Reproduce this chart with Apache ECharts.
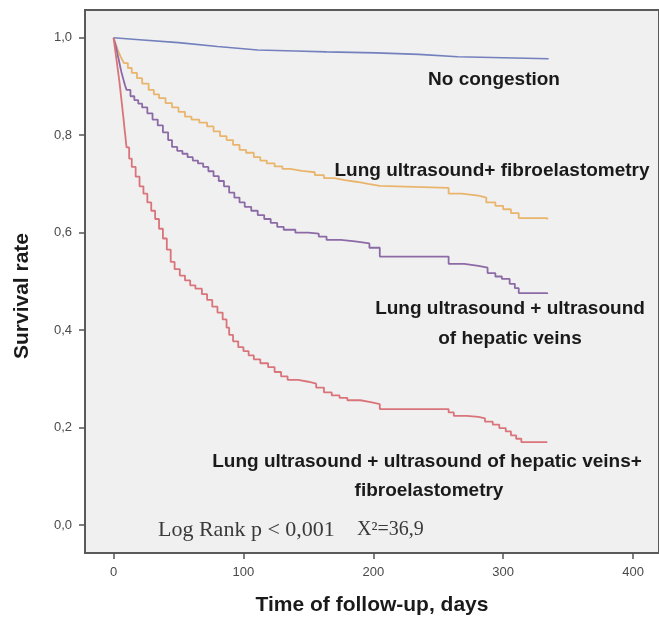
<!DOCTYPE html>
<html>
<head>
<meta charset="utf-8">
<script src="https://cdn.jsdelivr.net/npm/echarts@6/dist/echarts.min.js"></script>
<style>
  html, body { margin: 0; padding: 0; background: #fff; }
  #chart { width: 659px; height: 622px; }
</style>
</head>
<body>
<div id="chart"></div>
<script>
// tick values
const xTicks = [0, 100, 200, 300, 400];
const yTicks = [0, 0.2, 0.4, 0.6, 0.8, 1.0];

// No congestion
const blueT = [0, 20, 50, 80, 111, 140, 164, 202, 235, 265, 300, 335];
const blueS = [1.0, 0.996, 0.990, 0.982, 0.975, 0.973, 0.971, 0.969, 0.966, 0.961, 0.959, 0.957];

// Lung ultrasound+ fibroelastometry
const orangeT = [0, 1, 2, 3, 4, 5, 6, 7, 8, 11, 14, 18, 22, 27, 31, 35, 40, 45, 50, 55, 60, 66, 72, 77, 82, 87, 92,
  97, 102, 108, 113, 118, 124, 130, 136, 145, 155, 162, 170, 178, 188, 196, 205, 258, 268, 281, 287, 294, 300, 306,
  312, 334];
const orangeS = [1.0, 0.992, 0.985, 0.977, 0.970, 0.964, 0.958, 0.953, 0.948, 0.938, 0.928, 0.917, 0.906, 0.893,
  0.884, 0.876, 0.866, 0.857, 0.848, 0.838, 0.832, 0.826, 0.818, 0.808, 0.798, 0.790, 0.780, 0.770, 0.764, 0.755,
  0.748, 0.742, 0.736, 0.731, 0.727, 0.724, 0.718, 0.712, 0.708, 0.704, 0.700, 0.696, 0.692, 0.680, 0.676, 0.672,
  0.662, 0.655, 0.648, 0.640, 0.630, 0.627];

// Lung ultrasound + ultrasound of hepatic veins
const purpleT = [0, 1, 2, 3, 4, 5, 6, 7, 8, 9, 10, 13, 16, 19, 22, 26, 30, 34, 38, 42, 45, 49, 53, 57, 61, 65, 69,
  73, 77, 81, 85, 89, 93, 97, 101, 106, 111, 116, 121, 126, 131, 140, 150, 158, 164, 175, 186, 197, 205, 258, 270,
  281, 288, 294, 299, 305, 309, 312, 334];
const purpleS = [1.0, 0.990, 0.980, 0.967, 0.955, 0.942, 0.930, 0.920, 0.910, 0.901, 0.893, 0.880, 0.872, 0.865,
  0.857, 0.845, 0.832, 0.820, 0.806, 0.790, 0.776, 0.768, 0.762, 0.755, 0.748, 0.742, 0.735, 0.726, 0.716, 0.706,
  0.695, 0.682, 0.672, 0.662, 0.653, 0.645, 0.636, 0.628, 0.620, 0.612, 0.606, 0.600, 0.598, 0.592, 0.585, 0.582,
  0.578, 0.569, 0.551, 0.536, 0.532, 0.528, 0.517, 0.510, 0.505, 0.495, 0.486, 0.476, 0.474];

// Lung ultrasound + ultrasound of hepatic veins+ fibroelastometry
const redT = [0, 0.5, 1, 1.5, 2, 2.5, 3, 3.5, 4, 4.5, 5, 5.5, 6, 6.5, 7, 7.5, 8, 8.5, 9, 9.5, 10, 12, 14, 17, 20,
  23, 26, 29, 32, 35, 38, 41, 44, 47, 51, 55, 59, 63, 68, 72, 76, 80, 84, 87, 89, 92, 96, 100, 104, 108, 113, 119,
  124, 129, 134, 142, 150, 156, 162, 168, 174, 180, 190, 198, 205, 258, 262, 272, 281, 286, 292, 297, 302, 306, 310,
  314, 334];
const redS = [1.0, 0.990, 0.980, 0.970, 0.960, 0.950, 0.940, 0.930, 0.920, 0.910, 0.898, 0.886, 0.874, 0.862, 0.850,
  0.838, 0.825, 0.812, 0.800, 0.787, 0.775, 0.752, 0.735, 0.715, 0.695, 0.680, 0.662, 0.645, 0.628, 0.608, 0.588,
  0.565, 0.540, 0.525, 0.512, 0.502, 0.492, 0.485, 0.474, 0.462, 0.448, 0.436, 0.422, 0.405, 0.390, 0.377, 0.365,
  0.357, 0.348, 0.340, 0.332, 0.324, 0.314, 0.305, 0.298, 0.294, 0.290, 0.282, 0.272, 0.266, 0.261, 0.256, 0.252,
  0.248, 0.238, 0.231, 0.224, 0.222, 0.219, 0.212, 0.206, 0.199, 0.192, 0.184, 0.177, 0.170, 0.170];

const pairs = (t, s) => t.map((v, i) => [v, s[i]]);
const comma = v => String(v.toFixed(1)).replace('.', ',');

const sans = 'Liberation Sans, Arial, sans-serif';
const serif = 'Liberation Serif, Times New Roman, serif';

const chart = echarts.init(document.getElementById('chart'));

function label(text, x, y, size, rotation) {
  return {
    type: 'text', x: x, y: y, z: 10, rotation: rotation || 0,
    style: {
      text: text, fill: '#1a1a1a', font: 'bold ' + (size || 19) + 'px ' + sans,
      textAlign: 'center', textVerticalAlign: 'middle'
    }
  };
}

chart.setOption({
  animation: false,
  grid: {
    left: 85, top: 10, right: -7, bottom: 69,
    show: true, backgroundColor: '#f0f0f0', borderColor: '#5a5a5a', borderWidth: 2
  },
  xAxis: {
    type: 'value', min: -22, max: 420,
    axisLine: { show: false, onZero: false },
    splitLine: { show: false },
    axisTick: { show: true, length: 6, customValues: xTicks, lineStyle: { color: '#555', width: 1.5 } },
    axisLabel: { customValues: xTicks, margin: 13, fontSize: 13, color: '#4a4a4a', fontFamily: sans },
    name: 'Time of follow-up, days', nameLocation: 'middle', nameGap: 42,
    nameTextStyle: { fontSize: 21, fontWeight: 'bold', color: '#1a1a1a', fontFamily: sans }
  },
  yAxis: {
    type: 'value', min: -0.0575, max: 1.057,
    axisLine: { show: false, onZero: false },
    splitLine: { show: false },
    axisTick: { show: true, length: 6, customValues: yTicks, lineStyle: { color: '#555', width: 1.5 } },
    axisLabel: { customValues: yTicks, margin: 13, fontSize: 13, color: '#4a4a4a', fontFamily: sans, formatter: comma }
  },
  series: [
    { name: 'No congestion', type: 'line', data: pairs(blueT, blueS), showSymbol: false,
      lineStyle: { color: '#7380bd', width: 1.6 } },
    { name: 'Lung ultrasound+ fibroelastometry', type: 'line', step: 'end', data: pairs(orangeT, orangeS),
      showSymbol: false, lineStyle: { color: '#e9b56c', width: 1.8 } },
    { name: 'Lung ultrasound + ultrasound of hepatic veins', type: 'line', step: 'end', data: pairs(purpleT, purpleS),
      showSymbol: false, lineStyle: { color: '#8c6aa6', width: 1.8 } },
    { name: 'Lung ultrasound + ultrasound of hepatic veins+ fibroelastometry', type: 'line', step: 'end',
      data: pairs(redT, redS), showSymbol: false, lineStyle: { color: '#d9747a', width: 1.8 } }
  ],
  graphic: [
    label('Survival rate', 22, 296, 21, Math.PI / 2),
    label('No congestion', 494, 80),
    label('Lung ultrasound+ fibroelastometry', 492, 171),
    label('Lung ultrasound + ultrasound', 510, 309),
    label('of hepatic veins', 510, 339),
    label('Lung ultrasound + ultrasound of hepatic veins+', 427, 462),
    label('fibroelastometry', 429, 491),
    { type: 'text', x: 158, y: 530, z: 10,
      style: { text: 'Log Rank p < 0,001', fill: '#3a3a3a', font: '22px ' + serif, textVerticalAlign: 'middle' } },
    { type: 'text', x: 357, y: 530, z: 10,
      style: { text: 'X²=36,9', fill: '#3a3a3a', font: '20px ' + serif, textVerticalAlign: 'middle' } }
  ]
});
</script>
</body>
</html>
